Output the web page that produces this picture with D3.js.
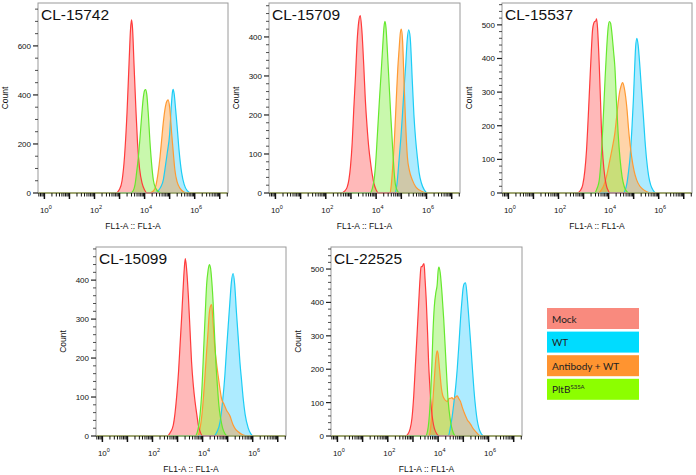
<!DOCTYPE html>
<html><head><meta charset="utf-8">
<script src="https://cdn.jsdelivr.net/npm/d3@7"></script>
<style>body{margin:0;background:#fff} svg{display:block}</style>
</head><body>
<svg id="c" width="696" height="475"></svg>
<script>
// ---------- data (x values are log10 of FL1-A, y values are counts) ----------
const panelTitles = ["CL-15742", "CL-15709", "CL-15537", "CL-15099", "CL-22525"];
const yMaxes = [775, 487, 565, 485, 566];
const yMajorSteps = [200, 100, 100, 100, 100];
const yMinorSteps = [50, 20, 20, 20, 20];
const xTickLabelExps = [0, 2, 4, 6];
const xAxisLabel = "FL1-A :: FL1-A";
const yAxisLabel = "Count";
const seriesNames = ["Mock", "WT", "Antibody + WT", "PltB"];

// Panel 1 CL-15742
const mock1 = [[2.85,0],[3.0,15],[3.1,50],[3.2,150],[3.3,330],[3.38,530],[3.44,670],[3.48,706],[3.52,670],[3.58,520],[3.65,350],[3.72,200],[3.8,100],[3.9,40],[4.0,12],[4.1,0]];
const wt1 = [[4.4,0],[4.55,10],[4.65,25],[4.75,55],[4.81,94],[4.9,160],[5.0,240],[5.07,360],[5.11,410],[5.14,423],[5.18,405],[5.24,340],[5.3,270],[5.38,170],[5.48,82],[5.58,35],[5.7,10],[5.88,0]];
const ab1 = [[4.2,0],[4.35,8],[4.45,30],[4.54,82],[4.62,150],[4.68,216],[4.75,290],[4.81,339],[4.88,372],[4.94,380],[5.0,350],[5.08,245],[5.15,160],[5.21,94],[5.3,45],[5.41,20],[5.55,5],[5.68,0]];
const pltb1 = [[3.45,0],[3.55,10],[3.62,35],[3.68,82],[3.75,145],[3.81,216],[3.88,310],[3.95,390],[4.0,418],[4.04,422],[4.09,400],[4.15,320],[4.21,216],[4.28,120],[4.35,53],[4.45,18],[4.55,5],[4.68,0]];

// Panel 2 CL-15709
const mock2 = [[2.6,0],[2.75,5],[2.85,15],[2.92,35],[2.98,67],[3.05,130],[3.11,213],[3.18,300],[3.24,384],[3.31,440],[3.37,455],[3.44,410],[3.51,324],[3.57,240],[3.64,170],[3.71,115],[3.78,77],[3.85,45],[3.91,25],[4.0,8],[4.08,0]];
const wt2 = [[4.75,0],[4.82,20],[4.91,85],[4.98,140],[5.04,196],[5.11,270],[5.17,324],[5.23,390],[5.29,418],[5.35,400],[5.44,281],[5.5,200],[5.57,136],[5.64,90],[5.71,51],[5.8,25],[5.91,8],[6.05,0]];
const ab2 = [[4.55,0],[4.6,20],[4.64,51],[4.72,130],[4.8,240],[4.86,320],[4.91,367],[4.96,410],[5.0,420],[5.05,390],[5.11,281],[5.17,180],[5.24,93],[5.32,58],[5.44,33],[5.58,15],[5.71,8],[5.85,3],[6.0,0]];
const pltb2 = [[3.75,0],[3.85,12],[3.92,35],[3.97,67],[4.05,150],[4.13,238],[4.2,310],[4.26,375],[4.31,425],[4.35,440],[4.39,425],[4.45,360],[4.5,298],[4.58,200],[4.66,110],[4.72,50],[4.77,20],[4.85,5],[4.92,0]];

// Panel 3 CL-15537
const mock3 = [[2.75,0],[2.88,8],[2.97,25],[3.05,65],[3.12,128],[3.19,230],[3.25,326],[3.31,420],[3.36,485],[3.41,505],[3.45,510],[3.49,512],[3.52,518],[3.56,490],[3.6,430],[3.63,376],[3.68,270],[3.72,178],[3.78,100],[3.85,48],[3.92,20],[3.98,8],[4.05,0]];
const wt3 = [[4.6,0],[4.66,8],[4.72,24],[4.79,60],[4.86,108],[4.93,190],[4.99,277],[5.04,370],[5.08,435],[5.13,460],[5.18,440],[5.25,376],[5.32,300],[5.39,227],[5.45,160],[5.52,98],[5.6,50],[5.68,24],[5.78,8],[5.88,0]];
const ab3 = [[3.6,0],[3.7,8],[3.79,19],[3.92,50],[4.05,98],[4.15,135],[4.25,178],[4.32,225],[4.38,267],[4.44,300],[4.49,316],[4.56,328],[4.62,315],[4.68,287],[4.74,245],[4.79,197],[4.85,150],[4.92,108],[5.02,65],[5.12,39],[5.25,20],[5.39,10],[5.55,3],[5.75,0]];
const pltb3 = [[3.45,0],[3.52,10],[3.58,22],[3.63,39],[3.7,100],[3.79,227],[3.86,340],[3.92,425],[3.98,490],[4.03,510],[4.08,505],[4.14,470],[4.2,420],[4.25,376],[4.31,280],[4.38,178],[4.46,100],[4.54,48],[4.63,18],[4.72,5],[4.82,0]];

// Panel 4 CL-15099
const mock4 = [[2.6,0],[2.7,8],[2.83,28],[2.97,105],[3.04,165],[3.1,233],[3.16,300],[3.21,362],[3.27,430],[3.31,455],[3.36,430],[3.43,362],[3.5,270],[3.56,190],[3.63,130],[3.7,88],[3.77,55],[3.83,28],[3.92,8],[4.0,0]];
const wt4 = [[4.45,0],[4.57,10],[4.7,37],[4.8,90],[4.89,156],[4.95,216],[5.02,280],[5.09,344],[5.15,395],[5.22,417],[5.28,390],[5.35,319],[5.42,255],[5.49,190],[5.56,140],[5.62,97],[5.7,55],[5.82,21],[5.92,6],[6.02,0]];
const ab4 = [[3.8,0],[3.9,20],[4.0,72],[4.08,140],[4.16,216],[4.22,270],[4.26,310],[4.31,332],[4.36,337],[4.42,290],[4.49,225],[4.56,185],[4.63,151],[4.7,118],[4.76,95],[4.85,82],[4.95,67],[5.09,52],[5.22,28],[5.32,17],[5.42,11],[5.6,3],[5.8,0]];
const pltb4 = [[3.7,0],[3.78,8],[3.83,21],[3.9,55],[3.96,105],[4.05,233],[4.11,320],[4.16,387],[4.22,425],[4.27,440],[4.32,430],[4.37,395],[4.42,344],[4.47,270],[4.53,190],[4.59,130],[4.65,79],[4.72,45],[4.8,20],[4.9,5],[5.0,0]];

// Panel 5 CL-22525
const mock5 = [[2.7,0],[2.8,6],[2.88,20],[2.96,53],[3.03,120],[3.09,203],[3.16,300],[3.23,402],[3.28,470],[3.32,507],[3.37,508],[3.41,514],[3.44,516],[3.48,470],[3.53,402],[3.58,310],[3.62,222],[3.67,150],[3.73,83],[3.79,45],[3.85,23],[3.95,6],[4.05,0]];
const wt5 = [[4.4,0],[4.49,28],[4.56,60],[4.63,103],[4.7,150],[4.76,203],[4.83,280],[4.89,352],[4.95,410],[4.99,442],[5.04,457],[5.09,459],[5.15,420],[5.22,352],[5.29,280],[5.36,203],[5.42,140],[5.49,83],[5.55,48],[5.62,23],[5.72,6],[5.82,0]];
const ab5 = [[3.65,0],[3.7,25],[3.76,73],[3.85,173],[3.91,233],[3.96,255],[4.0,245],[4.03,222],[4.08,180],[4.13,143],[4.18,122],[4.23,113],[4.3,106],[4.36,103],[4.43,112],[4.49,113],[4.55,115],[4.6,110],[4.68,116],[4.76,120],[4.82,112],[4.89,103],[4.95,88],[5.02,73],[5.09,60],[5.16,48],[5.22,42],[5.29,35],[5.39,22],[5.49,13],[5.6,4],[5.7,0]];
const pltb5 = [[3.5,0],[3.58,15],[3.63,43],[3.7,123],[3.75,210],[3.79,302],[3.85,390],[3.91,430],[3.96,452],[4.0,495],[4.03,506],[4.08,490],[4.15,430],[4.22,352],[4.31,222],[4.4,103],[4.47,55],[4.53,28],[4.6,10],[4.7,0]];

const panelSeries = [
  [mock1, wt1, ab1, pltb1],
  [mock2, wt2, ab2, pltb2],
  [mock3, wt3, ab3, pltb3],
  [mock4, wt4, ab4, pltb4],
  [mock5, wt5, ab5, pltb5]
];

// ---------- styling / layout ----------
const layout = [
  {x:38, y:3, w:190, h:190},
  {x:269, y:3, w:191, h:190},
  {x:502, y:3, w:190, h:190},
  {x:96, y:247, w:190, h:189},
  {x:331, y:247, w:191, h:189}
];
const logDomain = [-0.255, 7.33];
const strokeCol = ["#ff3b3b", "#1ccdf5", "#ff9a33", "#66e82e"];
const fillCol = ["rgba(255,80,80,0.4)", "rgba(51,204,255,0.4)", "rgba(255,153,51,0.42)", "rgba(119,238,51,0.4)"];
const drawOrder = [1, 2, 0, 3];
const legendFill = ["#f98a7e", "#00dcff", "#ff9430", "#8cff00"];
const FONT = "'Liberation Sans', Arial, sans-serif";

const svg = d3.select("#c");

panelTitles.forEach((title, i) => {
  const L = layout[i];
  const g = svg.append("g").attr("transform", `translate(${L.x},${L.y})`);
  const x = d3.scaleLog().domain([10 ** logDomain[0], 10 ** logDomain[1]]).range([0, L.w]);
  const y = d3.scaleLinear().domain([0, yMaxes[i]]).range([L.h, 0]);
  const full = s => [[logDomain[0], 0], ...s, [logDomain[1], 0]];
  const area = d3.area().x(d => x(10 ** d[0])).y0(L.h).y1(d => y(d[1])).curve(d3.curveMonotoneX);
  const line = d3.line().x(d => x(10 ** d[0])).y(d => y(d[1])).curve(d3.curveMonotoneX);

  const clipId = "clip" + i;
  g.append("clipPath").attr("id", clipId).append("rect").attr("x", 0).attr("y", 0).attr("width", L.w).attr("height", L.h + 1);
  const plot = g.append("g").attr("clip-path", `url(#${clipId})`);

  drawOrder.forEach(k => {
    plot.append("path").datum(panelSeries[i][k]).attr("d", area).attr("fill", fillCol[k]).attr("stroke", "none");
  });
  drawOrder.forEach(k => {
    plot.append("path").datum(full(panelSeries[i][k])).attr("d", line)
      .attr("fill", "none").attr("stroke", strokeCol[k]).attr("stroke-width", 1.2);
  });

  // frame
  g.append("rect").attr("x", 0).attr("y", 0).attr("width", L.w).attr("height", L.h)
    .attr("fill", "none").attr("stroke", "#9a9a9a").attr("stroke-width", 1);

  // y ticks
  const yMinor = d3.range(0, yMaxes[i] + 0.01, yMinorSteps[i]);
  g.append("g").selectAll("line").data(yMinor).join("line")
    .attr("x1", d => d % yMajorSteps[i] === 0 ? -5 : -3).attr("x2", 0)
    .attr("y1", d => y(d)).attr("y2", d => y(d))
    .attr("stroke", "#222").attr("stroke-width", d => d % yMajorSteps[i] === 0 ? 1.2 : 0.8);
  const yMajor = d3.range(0, yMaxes[i] + 0.01, yMajorSteps[i]);
  g.append("g").selectAll("text").data(yMajor).join("text")
    .attr("x", -7).attr("y", d => y(d) + 3).attr("text-anchor", "end")
    .attr("font-family", FONT).attr("font-size", 8).attr("fill", "#111").text(d => d);

  // x ticks
  const xt = [];
  for (let k = -1; k <= 7; k++) for (let m = 1; m <= 9; m++) {
    const v = m * 10 ** k;
    if (Math.log10(v) >= logDomain[0] && Math.log10(v) <= logDomain[1]) xt.push({v, major: m === 1});
  }
  g.append("g").selectAll("line").data(xt).join("line")
    .attr("x1", d => x(d.v)).attr("x2", d => x(d.v))
    .attr("y1", L.h).attr("y2", d => L.h + (d.major ? 6 : 3.5))
    .attr("stroke", "#111").attr("stroke-width", d => d.major ? 1.5 : 1);
  const xl = g.append("g").selectAll("text").data(xTickLabelExps).join("text")
    .attr("x", d => x(10 ** d) - 4.5).attr("y", L.h + 20)
    .attr("font-family", FONT).attr("font-size", 8).attr("fill", "#111");
  xl.append("tspan").text("10");
  xl.append("tspan").attr("dy", -4).attr("font-size", 5.5).text(d => d);

  // axis labels
  g.append("text").attr("x", L.w / 2).attr("y", L.h + 36).attr("text-anchor", "middle")
    .attr("font-family", FONT).attr("font-size", 8.5).attr("fill", "#111").text(xAxisLabel);
  g.append("text").attr("transform", `translate(${-30},${L.h / 2}) rotate(-90)`)
    .attr("text-anchor", "middle").attr("font-family", FONT).attr("font-size", 8.5).attr("fill", "#111").text(yAxisLabel);

  // title
  g.append("text").attr("x", 3).attr("y", 16.5).attr("font-family", FONT).attr("font-size", 15.5)
    .attr("fill", "#111").text(title);
});

// legend
const lg = svg.append("g").attr("transform", "translate(547,308)");
seriesNames.forEach((name, k) => {
  const row = lg.append("g").attr("transform", `translate(0,${k * 23.6})`);
  row.append("rect").attr("width", 92).attr("height", 21).attr("fill", legendFill[k]);
  const t = row.append("text").attr("x", 5).attr("y", 14.5).attr("font-family", "Lato, 'Open Sans', sans-serif")
    .attr("font-size", 10).attr("fill", "#222").text(name);
  if (name === "PltB") t.append("tspan").attr("dy", -4).attr("font-size", 6).text("S35A");
});
</script>
</body></html>
